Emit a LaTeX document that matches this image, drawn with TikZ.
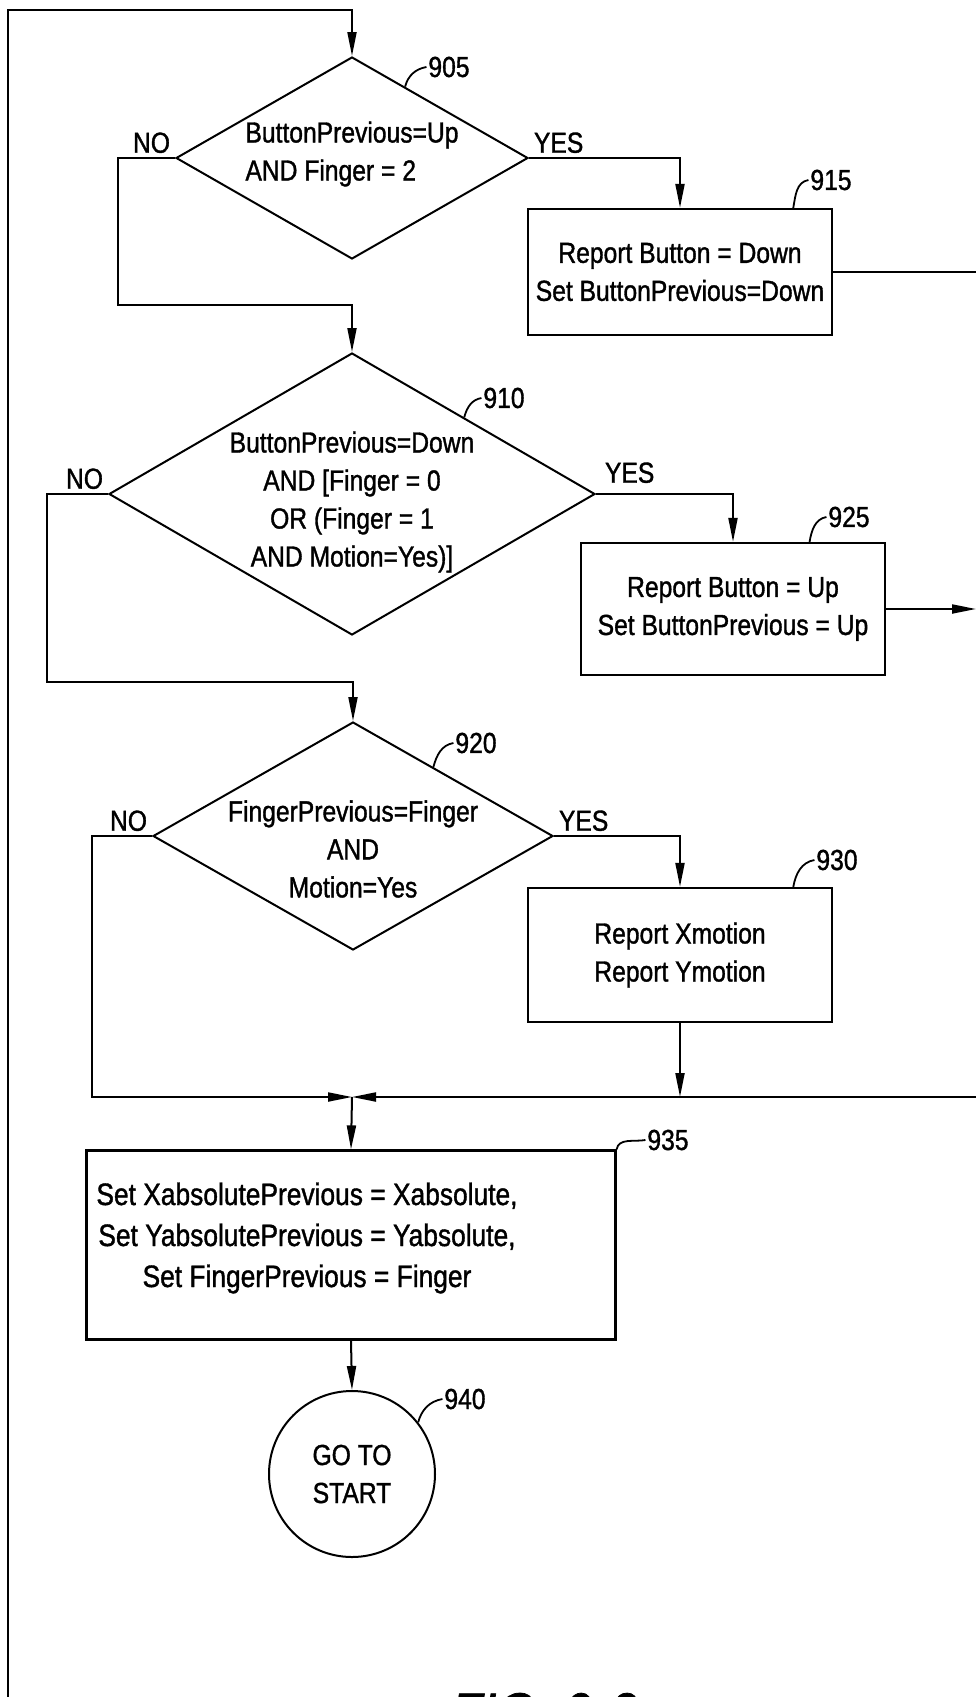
\documentclass[tikz,border=0pt]{standalone}
\usepackage{fontspec}
\setmainfont{Liberation Sans}[FakeStretch=0.85, FakeBold=1.2]
\usetikzlibrary{shapes.geometric, arrows.meta, calc}
\newcommand{\lett}{\fontsize{29}{38}\selectfont}
\newcommand{\refnum}{\fontsize{29}{29}\selectfont}

\begin{document}
\begin{tikzpicture}[x=1pt, y=-1pt, line width=2pt,
  box/.style={draw, line width=2.2pt, minimum width=304pt, minimum height=128pt, align=center, font=\lett},
  dia/.style={draw, diamond, line width=2pt, inner sep=0pt},
  txt/.style={align=center, font=\lett},
  yn/.style={font=\lett, inner sep=4pt},
  num/.style={font=\refnum, inner sep=1pt},
  lead/.style={line width=1.8pt},
  arr/.style={-{Triangle[length=24pt, width=9pt]}}]
\useasboundingbox (0,0) rectangle (976,1697);

% decisions
\node[dia, minimum width=352pt, minimum height=202pt,
  label={[txt, align=left, yshift=4pt]center:{ButtonPrevious=Up\\AND Finger = 2}}] (d905) at (352,158) {};
\node[dia, minimum width=486pt, minimum height=282pt,
  label={[txt, yshift=-8pt]center:{ButtonPrevious=Down\\AND [Finger = 0\\OR (Finger = 1\\AND Motion=Yes)]}}] (d910) at (352,494) {};
\node[dia, minimum width=400pt, minimum height=228pt,
  label={[txt, yshift=-13pt]center:{FingerPrevious=Finger\\AND\\Motion=Yes}}] (d920) at (353,836) {};

% actions
\node[box, minimum height=126pt] (b915) at (680,272) {Report Button = Down\\Set ButtonPrevious=Down};
\node[box, minimum height=132pt] (b925) at (733,609) {Report Button = Up\\Set ButtonPrevious = Up};
\node[box, minimum height=134pt] (b930) at (680,955) {Report Xmotion\\Report Ymotion};
\node[box, minimum width=529pt, minimum height=189pt,
  label={[txt, font=\fontsize{31}{41}\selectfont, xshift=-44pt, yshift=7pt]center:{Set XabsolutePrevious = Xabsolute,\\Set YabsolutePrevious = Yabsolute,\\Set FingerPrevious = Finger}}] (b935) at (351,1245) {};
\node[draw, circle, line width=2pt, minimum size=166pt, inner sep=0pt, txt] (c940) at (352,1474) {GO TO\\START};

% yes / no
\node[yn, anchor=south east] (no905) at (d905.west) {NO};
\node[yn, anchor=south west] (yes905) at (d905.east) {YES};
\node[yn, anchor=south east] (no910) at (d910.west) {NO};
\node[yn, anchor=south west, xshift=4pt, yshift=6pt] (yes910) at (d910.east) {YES};
\node[yn, anchor=south east] (no920) at (d920.west) {NO};
\node[yn, anchor=south west] (yes920) at (d920.east) {YES};

% reference numerals
\node[num] (n905) at (449,67) {905};
\node[num] (n910) at (504,398) {910};
\node[num] (n920) at (476,743) {920};
\node[num] (n915) at (831,180) {915};
\node[num] (n925) at (849,517) {925};
\node[num] (n930) at (837,860) {930};
\node[num] (n935) at (668,1140) {935};
\node[num] (n940) at (465,1399) {940};
\draw[lead] ($(d905.north)!0.3!(d905.east)$) to[out=75, in=190] (n905.west);
\draw[lead] ($(d910.north)!0.46!(d910.east)$) to[out=75, in=190] (n910.west);
\draw[lead] ($(d920.north)!0.4!(d920.east)$) to[out=75, in=190] (n920.west);
\draw[lead] ($(b915.north west)!0.87!(b915.north east)$) to[out=80, in=190] (n915.west);
\draw[lead] ($(b925.north west)!0.75!(b925.north east)$) to[out=80, in=190] (n925.west);
\draw[lead] ($(b930.north west)!0.87!(b930.north east)$) to[out=80, in=190] (n930.west);
\draw[lead] (b935.north east) to[out=80, in=190] (n935.west);
\draw[lead] (c940.38) to[out=75, in=190] (n940.west);

% bends and rails
\coordinate (railbot) at (8,1697);
\coordinate (railtop) at (8,10);
\coordinate (bend905) at (118,305);
\coordinate (bend910) at (47,682);
\coordinate (bend920) at (92,1097);
\coordinate (join) at (352,1097);
\coordinate (redge) at (976,1097);

% flow
\draw[arr] (railbot) -- (railtop) -| (d905.north);
\draw[arr] (d905.west) -| (bend905) -| (d910.north);
\draw[arr] (d905.east) -| (b915.north);
\draw[arr] (d910.west) -| (bend910) -| (d920.north);
\draw[arr] (d910.east) -| (b925.north);
\draw[arr] (d920.west) -| (bend920) -- (join);
\draw[arr] (d920.east) -| (b930.north);
\draw[arr] (b930.south) -- (b930.south |- join);
\draw[arr] (redge) -- (join);
\draw (b915.east) -- (b915.east -| redge);
\draw[arr] (b925.east) -- (b925.east -| redge);
\draw[arr] (join) -- (b935.north);
\draw[arr] (b935.south) -- (c940.north);

\node[font=\fontsize{60}{60}\selectfont\itshape, anchor=north west, inner sep=0pt] (fig) at (450,1692) {FIG. 9-2};
\end{tikzpicture}
\end{document}
